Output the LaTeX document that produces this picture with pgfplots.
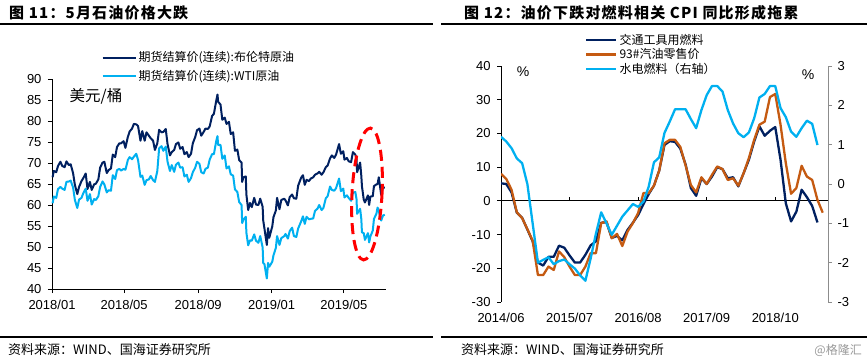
\documentclass[border=0pt]{standalone}
\usepackage{fontspec}
\setmainfont{Liberation Sans}
\newfontfamily\cjk{Noto Sans CJK SC}
\newfontfamily\cjkt[LetterSpace=8]{Noto Sans CJK SC}
\usepackage{pgfplots}
\pgfplotsset{compat=1.18}
\usepackage{pgfplotstable}
\definecolor{dblue}{HTML}{002060}
\definecolor{lblue}{HTML}{00B0F0}
\definecolor{orng}{HTML}{C55A11}
\definecolor{axgray}{HTML}{8C8C8C}

% day index since 2018-01-01, Brent, WTI
\pgfplotstableread{
d b w
1 66.6 60.4
3 68.1 62.0
7 67.8 61.7
10 69.3 63.8
14 70.3 64.3
17 69.3 63.9
21 69.0 63.6
24 70.4 65.5
28 69.5 65.6
31 69.7 65.8
35 67.6 64.2
38 64.8 61.2
42 62.6 59.3
45 64.3 61.3
49 65.7 61.7
52 66.4 62.8
56 67.5 63.9
59 63.8 61.0
63 65.5 62.6
66 63.6 60.1
70 64.9 61.4
73 65.1 61.2
77 66.1 62.1
80 68.9 64.3
84 70.1 65.6
87 70.3 64.9
91 67.6 63.0
94 68.3 63.5
98 68.7 63.4
101 72.0 67.1
105 71.4 66.2
108 73.8 68.3
112 74.7 68.6
115 74.7 68.2
119 75.2 68.6
122 73.6 68.4
126 76.2 70.7
129 77.5 71.4
133 78.2 70.9
136 79.3 71.5
140 79.2 72.2
143 78.8 70.7
147 75.3 66.7
150 77.6 67.0
154 75.3 64.8
157 77.3 65.9
161 76.5 66.1
164 75.9 66.9
168 75.3 65.9
171 73.1 65.5
175 74.7 68.1
178 77.9 73.5
182 77.3 74.0
185 77.4 72.9
189 78.1 73.9
192 74.5 70.3
196 71.8 68.1
199 72.6 69.5
203 73.1 67.9
206 74.5 69.6
210 74.9 70.1
213 73.4 68.9
217 73.8 69.0
220 72.1 66.8
224 72.6 67.2
227 71.4 65.5
231 72.2 66.4
234 74.7 67.8
238 76.2 68.9
241 77.8 70.3
245 78.2 69.8
248 76.5 67.8
252 77.4 67.5
255 78.2 68.6
259 78.1 68.9
262 78.7 70.8
266 81.2 72.1
269 81.7 72.1
273 84.9 75.3
275 86.3 76.4
276 84.6 74.3
280 83.9 74.3
283 80.3 71.0
287 80.8 71.8
290 79.3 68.7
294 79.8 69.2
297 76.9 67.3
301 77.3 67.0
304 72.9 63.7
308 73.2 63.1
311 70.7 60.7
315 70.1 60.0
316 65.5 55.7
318 66.6 56.5
322 66.8 57.2
323 62.5 53.4
326 58.8 50.4
329 60.5 51.6
332 59.5 51.5
336 61.7 53.0
339 60.1 51.5
343 60.0 51.0
346 61.5 52.6
350 59.6 49.9
351 56.3 46.2
353 54.4 45.9
357 50.5 42.5
359 54.5 46.2
361 52.2 45.3
366 54.9 46.5
368 57.1 48.0
372 58.7 49.8
374 61.7 52.6
378 59.0 50.5
381 61.2 52.1
386 61.5 52.6
388 61.1 53.1
392 59.9 52.0
395 61.9 53.8
399 62.5 54.6
402 61.6 52.6
406 61.5 52.4
409 64.6 54.4
414 66.5 56.1
417 67.1 57.3
420 64.8 55.5
423 66.0 57.2
427 65.7 56.6
430 66.3 56.7
434 66.6 56.8
437 67.2 58.6
441 67.5 59.1
444 67.9 60.0
448 67.2 58.8
451 67.8 59.3
455 69.0 61.6
458 69.4 62.1
462 71.1 64.4
465 71.8 63.6
469 71.2 63.4
472 72.0 64.0
477 74.5 66.3
480 72.2 63.3
484 72.8 63.9
486 70.8 61.8
490 71.2 62.3
493 70.4 61.7
497 70.2 61.0
500 72.6 62.9
504 72.0 63.1
506 71.0 61.4
507 67.8 57.9
512 70.1 59.1
514 66.9 56.6
515 64.5 53.5
518 61.3 53.3
520 60.6 51.7
525 62.3 53.3
527 60.0 51.1
529 62.0 52.5
533 62.1 53.9
535 64.5 56.7
539 64.9 57.9
541 65.0 59.4
543 66.6 58.5
547 62.4 56.3
550 64.2 57.5
553 64.1 57.7
}\oiltable

% month index since 2014/06
\pgfplotstableread{
m dk og
0 5.2 8.0
1 5.0 6.5
2 2.5 3.3
3 -3.5 -3.4
4 -5.0 -5.1
5 -8.5 -8.4
6 -12.0 -11.8
7 -18.3 -22.0
8 -19.2 -22.0
9 -16.6 -19.5
10 -16.6 -20.5
11 -13.3 -15.0
12 -13.9 -16.7
13 -16.2 -19.5
14 -18.3 -22.0
15 -18.3 -22.0
16 -16.0 -19.5
17 -13.2 -15.5
18 -12.0 -15.5
19 -6.5 -6.6
20 -6.3 -6.1
21 -11.0 -11.1
22 -10.4 -9.8
23 -11.7 -13.4
24 -8.6 -9.1
25 -6.5 -6.6
26 -4.2 -3.6
27 -1.0 2.3
28 2.0 2.3
29 4.5 4.5
30 9.0 9.0
31 16.6 17.1
32 17.7 18.1
33 17.5 18.1
34 15.5 16.0
35 10.8 10.5
36 3.8 4.7
37 1.5 2.5
38 6.7 7.0
39 5.0 5.0
40 7.2 7.7
41 10.0 10.2
42 9.4 9.4
43 6.7 6.2
44 7.0 6.7
45 4.3 4.5
46 8.2 8.2
47 12.2 12.7
48 17.6 18.1
49 22.1 22.6
50 19.3 23.5
51 20.8 30.8
52 21.9 31.7
53 12.2 22.6
54 -0.7 11.2
55 -6.1 2.1
56 -3.2 3.8
57 3.3 10.4
58 1.1 7.2
59 -1.5 6.2
60 -6.4 0.3
61 nan -3.5
}\cpitable

\pgfplotstableread{
m r
0 1.20
1 1.08
2 0.91
3 0.65
4 0.53
5 0.00
6 -1.00
7 -2.00
8 -1.93
9 -1.86
10 -2.04
11 -1.96
12 -1.92
13 -2.04
14 -2.15
15 -2.32
16 -2.46
17 -1.89
18 -1.26
19 -0.72
20 -1.00
21 -1.29
22 -1.06
23 -0.83
24 -0.67
25 -0.51
26 -0.58
27 -0.45
28 -0.07
29 0.55
30 0.68
31 1.30
32 1.59
33 1.90
34 1.90
35 1.90
36 1.65
37 1.42
38 1.88
39 2.26
40 2.49
41 2.49
42 2.35
43 1.88
44 1.54
45 1.29
46 1.19
47 1.31
48 1.67
49 2.20
50 2.29
51 2.49
52 2.49
53 1.93
54 1.70
55 1.33
56 1.20
57 1.42
58 1.61
59 1.53
60 0.99
}\hdtable

\begin{document}
\begin{tikzpicture}
\path[use as bounding box] (0bp,0bp) rectangle (867bp,361bp);

% titles and rules
\node[anchor=west, inner sep=0pt, font=\cjkt\bfseries\fontsize{15bp}{17bp}\selectfont] at (9bp,348bp) {图 11：5月石油价格大跌};
\node[anchor=west, inner sep=0pt, font=\cjkt\bfseries\fontsize{15bp}{17bp}\selectfont] at (464bp,348bp) {图 12：油价下跌对燃料相关 CPI 同比形成拖累};
\draw[black, line width=1.3bp] (0bp,337bp) -- (433bp,337bp);
\draw[black, line width=1.3bp] (441bp,337bp) -- (867bp,337bp);
\draw[black, line width=1.1bp] (0bp,24bp) -- (433bp,24bp);
\draw[black, line width=1.1bp] (441bp,24bp) -- (867bp,24bp);
\node[anchor=west, inner sep=0pt, font=\cjk\fontsize{13bp}{15bp}\selectfont] at (8bp,11bp) {资料来源：WIND、国海证券研究所};
\node[anchor=west, inner sep=0pt, font=\cjk\fontsize{13bp}{15bp}\selectfont] at (461bp,11bp) {资料来源：WIND、国海证券研究所};
\node[anchor=east, inner sep=0pt, text=black!40, font=\cjk\fontsize{12bp}{14bp}\selectfont] at (862bp,11bp) {@格隆汇};

% left chart
\begin{axis}[
  at={(52bp,72bp)}, anchor=south west,
  scale only axis, width=334bp, height=210bp,
  xmin=0, xmax=555, ymin=40, ymax=90,
  axis lines*=left,
  axis line style={black, line width=0.8bp},
  tick align=outside, major tick length=4bp,
  tick style={black, line width=0.8bp},
  xtick={0,120,243,365,485},
  xticklabels={2018/01,2018/05,2018/09,2019/01,2019/05},
  ytick={40,45,...,90},
  yticklabels={40,45,50,55,60,65,70,75,80,85,90},
  ticklabel style={font=\fontsize{13bp}{15bp}\selectfont},
  xticklabel style={yshift=-4bp},
  yticklabel style={xshift=-3bp},
  legend style={at={(0.148,1.14)}, anchor=north west, draw=none, fill=none,
    font=\cjk\fontsize{12bp}{14bp}\selectfont, row sep=3bp, inner sep=0pt},
  legend cell align=left,
  legend image code/.code={\draw[#1] (0bp,0bp) -- (33bp,0bp);},
  clip=false,
]
\addplot[dblue, line width=2bp, line join=round] table[x=d, y=b] \oiltable;
\addlegendentry{期货结算价(连续):布伦特原油}
\addplot[lblue, line width=2bp, line join=round] table[x=d, y=w] \oiltable;
\addlegendentry{期货结算价(连续):WTI原油}
\end{axis}
\node[anchor=center, inner sep=0pt, font=\cjk\fontsize{15.5bp}{17bp}\selectfont] at (96bp,265bp) {美元/桶};
\draw[red, line width=3bp, dash pattern=on 11bp off 6bp, rotate around={-3:(367bp,167bp)}] (367bp,167bp) ellipse [x radius=15bp, y radius=66bp];

% right chart, left axis
\begin{axis}[
  at={(501bp,59bp)}, anchor=south west,
  scale only axis, width=327bp, height=236bp,
  xmin=0, xmax=62, ymin=-30, ymax=40,
  axis y line*=left, axis x line*=bottom,
  x axis line style={draw=none},
  y axis line style={black, line width=0.8bp},
  tick align=outside, major tick length=4bp,
  ytick style={black, line width=0.8bp},
  xtick style={draw=none},
  xtick={0,13,26,39,52},
  xticklabels={2014/06,2015/07,2016/08,2017/09,2018/10},
  ytick={-30,-20,...,40},
  yticklabels={-30,-20,-10,0,10,20,30,40},
  ticklabel style={font=\fontsize{13bp}{15bp}\selectfont},
  xticklabel style={yshift=-4bp},
  yticklabel style={xshift=-3bp},
]
\draw[black, line width=1bp] (axis cs:0,0) -- (axis cs:62,0);
\pgfplotsinvokeforeach{13,26,39,52}{\draw[black, line width=0.8bp] (axis cs:#1,0) -- ++(0bp,3.5bp);}
\addplot[dblue, line width=2.3bp, line join=round] table[x=m, y=dk] \cpitable;
\addplot[orng, line width=2.3bp, line join=round] table[x=m, y=og] \cpitable;
\end{axis}

% right chart, right axis
\begin{axis}[
  at={(501bp,59bp)}, anchor=south west,
  scale only axis, width=327bp, height=236bp,
  xmin=0, xmax=62, ymin=-3, ymax=3,
  axis y line*=right, axis x line=none,
  y axis line style={axgray, line width=0.8bp},
  tick align=outside, major tick length=4bp,
  ytick style={axgray, line width=0.8bp},
  ytick={-3,-2,...,3},
  yticklabels={-3,-2,-1,0,1,2,3},
  ticklabel style={font=\fontsize{13bp}{15bp}\selectfont},
  yticklabel style={xshift=2bp},
  legend style={at={(0.257,1.145)}, anchor=north west, draw=none, fill=none,
    font=\cjk\fontsize{12bp}{14bp}\selectfont, row sep=-1bp, inner sep=0pt},
  legend cell align=left,
  legend image code/.code={\draw[#1] (0bp,0bp) -- (30bp,0bp);},
]
\addlegendimage{dblue, line width=2.3bp}
\addlegendentry{交通工具用燃料}
\addlegendimage{orng, line width=2.3bp}
\addlegendentry{93\#汽油零售价}
\addplot[lblue, line width=2.3bp, line join=round] table[x=m, y=r] \hdtable;
\addlegendentry{水电燃料（右轴）}
\end{axis}
\node[font=\fontsize{14bp}{16bp}\selectfont, inner sep=0pt] at (523bp,289bp) {\%};
\node[font=\fontsize{14bp}{16bp}\selectfont, inner sep=0pt] at (808bp,286bp) {\%};
\end{tikzpicture}
\end{document}
